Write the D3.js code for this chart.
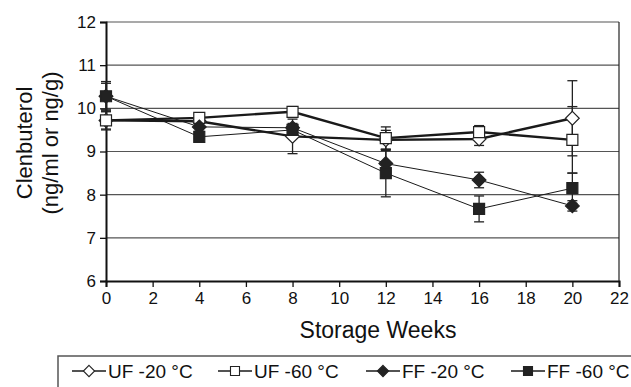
<!DOCTYPE html>
<html>
<head>
<meta charset="utf-8">
<script src="https://cdn.jsdelivr.net/npm/d3@7"></script>
<style>
  body { margin: 0; background: #fff; }
  svg { display: block; font-family: "Liberation Sans", Arial, sans-serif; }
</style>
</head>
<body>
<div id="chart"></div>
<script>
// storage weeks and series values
const weeks = [0, 4, 8, 12, 16, 20];
const uf20 = [9.72, 9.70, 9.35, 9.27, 9.29, 9.77];
const uf20Err = [0.20, 0.10, 0.40, 0.22, 0.15, 0.87];
const uf60 = [9.72, 9.78, 9.92, 9.31, 9.45, 9.27];
const uf60Err = [0.22, 0.08, 0.12, 0.26, 0.15, 0.77];
const ff20 = [10.28, 9.57, 9.55, 8.72, 8.34, 7.74];
const ff20Err = [0.30, 0.10, 0.10, 0.30, 0.18, 0.12];
const ff60 = [10.28, 9.34, 9.50, 8.50, 7.67, 8.15];
const ff60Err = [0.34, 0.12, 0.10, 0.55, 0.30, 0.35];

const xTicks = [0, 2, 4, 6, 8, 10, 12, 14, 16, 18, 20, 22];
const yTicks = [6, 7, 8, 9, 10, 11, 12];
const seriesNames = ["UF -20 °C", "UF -60 °C", "FF -20 °C", "FF -60 °C"];

const series = [
    { name: seriesNames[0], values: uf20, err: uf20Err, shape: "diamond", fill: "#fff", lw: 2.4 },
    { name: seriesNames[1], values: uf60, err: uf60Err, shape: "square", fill: "#fff", lw: 2.4 },
    { name: seriesNames[2], values: ff20, err: ff20Err, shape: "diamond", fill: "#222", lw: 1 },
    { name: seriesNames[3], values: ff60, err: ff60Err, shape: "square", fill: "#222", lw: 1 }
];

const width = 631, height = 387;
const margin = { top: 22, right: 12, bottom: 106, left: 106 };

const svg = d3.select("#chart").append("svg")
    .attr("width", width)
    .attr("height", height);

const x = d3.scaleLinear().domain([0, 22]).range([margin.left, width - margin.right]);
const y = d3.scaleLinear().domain([6, 12]).range([height - margin.bottom, margin.top]);

// gridlines
svg.append("g")
    .selectAll("line")
    .data(yTicks.filter(d => d > 6))
    .enter()
    .append("line")
    .attr("x1", x(0)).attr("x2", x(22))
    .attr("y1", d => y(d)).attr("y2", d => y(d))
    .attr("stroke", "#555")
    .attr("stroke-width", 1.2);

// right border of plot area
svg.append("line")
    .attr("x1", x(22)).attr("x2", x(22))
    .attr("y1", y(12)).attr("y2", y(6))
    .attr("stroke", "#222")
    .attr("stroke-width", 1.2);

// axes
const xAxis = svg.append("g")
    .attr("transform", `translate(0,${y(6)})`)
    .call(d3.axisBottom(x).tickValues(xTicks).tickFormat(d3.format("d")).tickSize(6).tickPadding(5));
const yAxis = svg.append("g")
    .attr("transform", `translate(${x(0)},0)`)
    .call(d3.axisLeft(y).tickValues(yTicks).tickFormat(d3.format("d")).tickSize(6).tickPadding(4));

[xAxis, yAxis].forEach(function(g) {
    g.select(".domain").attr("stroke", "#111").attr("stroke-width", 2);
    g.selectAll(".tick line").attr("stroke", "#111").attr("stroke-width", 1.3);
    g.selectAll("text")
        .attr("font-family", "Liberation Sans, Arial, sans-serif")
        .attr("font-size", 17)
        .attr("fill", "#111");
});

// axis titles
svg.append("text")
    .attr("x", 378)
    .attr("y", 338)
    .attr("text-anchor", "middle")
    .attr("font-size", 23)
    .attr("fill", "#111")
    .text("Storage Weeks");

svg.append("text")
    .attr("transform", `translate(32,${143}) rotate(-90)`)
    .attr("text-anchor", "middle")
    .attr("font-size", 22)
    .attr("fill", "#111")
    .text("Clenbuterol");
svg.append("text")
    .attr("transform", `translate(58,${143}) rotate(-90)`)
    .attr("text-anchor", "middle")
    .attr("font-size", 22)
    .attr("fill", "#111")
    .text("(ng/ml or ng/g)");

// marker paths
function markerPath(shape, s) {
    if (shape === "square") {
        return `M${-s},${-s}H${s}V${s}H${-s}Z`;
    }
    const d = s * 1.25;
    return `M0,${-d}L${d},0L0,${d}L${-d},0Z`;
}

const line = d3.line()
    .x((d, i) => x(weeks[i]))
    .y(d => y(d));

// error bars
series.forEach(function(s) {
    const g = svg.append("g");
    g.selectAll("line.bar")
        .data(s.values)
        .enter()
        .append("line")
        .attr("x1", (d, i) => x(weeks[i]))
        .attr("x2", (d, i) => x(weeks[i]))
        .attr("y1", (d, i) => y(d + s.err[i]))
        .attr("y2", (d, i) => y(d - s.err[i]))
        .attr("stroke", "#222")
        .attr("stroke-width", 1.3);
    [1, -1].forEach(function(sign) {
        g.selectAll(null)
            .data(s.values)
            .enter()
            .append("line")
            .attr("x1", (d, i) => x(weeks[i]) - 5)
            .attr("x2", (d, i) => x(weeks[i]) + 5)
            .attr("y1", (d, i) => y(d + sign * s.err[i]))
            .attr("y2", (d, i) => y(d + sign * s.err[i]))
            .attr("stroke", "#222")
            .attr("stroke-width", 1.3);
    });
});

// lines and markers
series.forEach(function(s) {
    svg.append("path")
        .datum(s.values)
        .attr("d", line)
        .attr("fill", "none")
        .attr("stroke", "#1a1a1a")
        .attr("stroke-width", s.lw);
});
series.forEach(function(s) {
    svg.append("g")
        .selectAll("path")
        .data(s.values)
        .enter()
        .append("path")
        .attr("transform", (d, i) => `translate(${x(weeks[i])},${y(d)})`)
        .attr("d", markerPath(s.shape, 5.5))
        .attr("fill", s.fill)
        .attr("stroke", "#222")
        .attr("stroke-width", 1.2);
});

// legend
const legend = svg.append("g");
legend.append("rect")
    .attr("x", 58).attr("y", 356)
    .attr("width", 600).attr("height", 60)
    .attr("fill", "#fff")
    .attr("stroke", "#555")
    .attr("stroke-width", 1.5);

const legendX = [72, 218, 366, 511];
series.forEach(function(s, i) {
    const lg = legend.append("g").attr("transform", `translate(${legendX[i]},371)`);
    lg.append("line")
        .attr("x1", 0).attr("x2", 34)
        .attr("y1", 0).attr("y2", 0)
        .attr("stroke", "#1a1a1a")
        .attr("stroke-width", 1.3);
    lg.append("path")
        .attr("transform", "translate(17,0)")
        .attr("d", markerPath(s.shape, 4.5))
        .attr("fill", s.fill)
        .attr("stroke", "#222")
        .attr("stroke-width", 1.1);
    lg.append("text")
        .attr("x", 36)
        .attr("y", 7)
        .attr("font-size", 19)
        .attr("fill", "#111")
        .text(s.name);
});
</script>
</body>
</html>
